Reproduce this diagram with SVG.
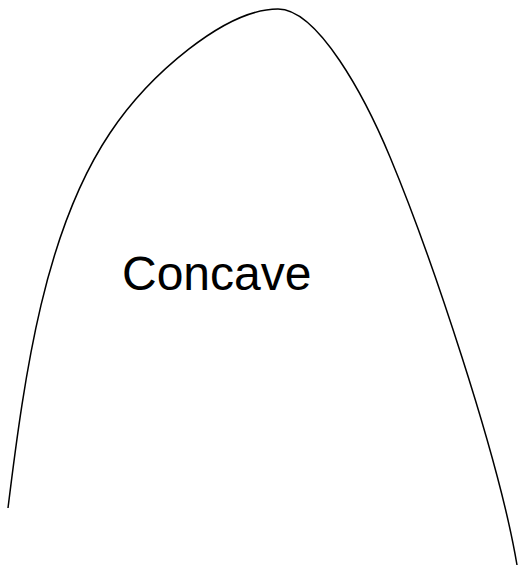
<svg xmlns="http://www.w3.org/2000/svg" width="518" height="586" viewBox="0 0 518 586">
<style>
.curve{fill:none;stroke:#000;stroke-width:1.5}
.lbl{font-family:"Liberation Sans",Arial,sans-serif;font-size:48px;fill:#000}
</style>
<rect width="518" height="586" fill="#fff"/>
<g id="connectors">
<path class="curve" d="M8,508 C25,370 45,230 110,133 C149,74.8 225,9 278,9 C318,9 365,97 390,157 C430,253 499,457 517,565"/>
</g>
<g id="label">
<text class="lbl" x="122" y="290">Concave</text>
</g>
</svg>
